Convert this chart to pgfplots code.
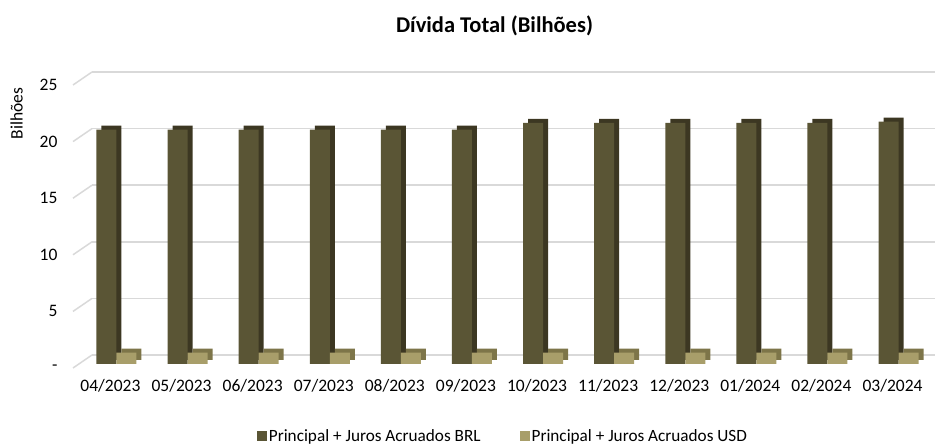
\documentclass[border=0pt]{standalone}
\usepackage{pgfplots}
\pgfplotsset{compat=1.18}
\usepackage{pgfplotstable}
\usepackage{fontspec}
\setmainfont{Carlito}

\definecolor{brl}{HTML}{5A5535}
\definecolor{brlside}{HTML}{3C3722}
\definecolor{usd}{HTML}{A89E6A}
\definecolor{usdside}{HTML}{7D7549}
\definecolor{gridc}{HTML}{D9D9D9}

% x = month index, values in billions
\pgfplotstableread{
x  brl   usd
0  20.7  1.0
1  20.7  1.0
2  20.7  1.0
3  20.7  1.0
4  20.7  1.0
5  20.7  1.0
6  21.3  1.0
7  21.3  1.0
8  21.3  1.0
9  21.3  1.0
10 21.3  1.0
11 21.4  1.0
}\divida

\begin{document}
\begin{tikzpicture}
\path[use as bounding box] (0,0) rectangle (935pt,444pt);
\begin{axis}[
  at={(73pt,80pt)}, anchor=south west,
  scale only axis, width=843pt, height=283pt,
  xmin=-0.527, xmax=11.33, ymin=0, ymax=25,
  clip=false,
  axis line style={draw=none},
  major tick length=0pt,
  ytick={0,5,...,25}, yticklabels={-,5,10,15,20,25},
  xtick={0,...,11},
  xticklabels={04/2023,05/2023,06/2023,07/2023,08/2023,09/2023,10/2023,11/2023,12/2023,01/2024,02/2024,03/2024},
  ymajorgrids,
  major grid style={gridc, line width=1.5pt, xshift=19pt, yshift=9pt},
  tick label style={font=\fontsize{17.5}{20}\selectfont},
  yticklabel style={yshift=-4pt, xshift=-12pt},
  xticklabel style={yshift=-12pt},
  title={Dívida Total (Bilhões)},
  title style={font=\bfseries\fontsize{22.5}{26}\selectfont, yshift=36pt},
  ylabel={Bilhões},
  ylabel style={font=\fontsize{17.5}{20}\selectfont, at={(ticklabel cs:0.885)}, yshift=10pt},
  legend columns=2,
  legend entries={Principal + Juros Acruados BRL, Principal + Juros Acruados USD},
  legend style={at={(0.51,0)}, anchor=center, yshift=-72pt, draw=none,
    font=\fontsize{17.2}{20}\selectfont,
    /tikz/every even column/.append style={column sep=37pt}},
  legend image code/.code={\fill[#1] (-4pt,-5pt) rectangle (6pt,5pt);},
]
\pgfplotsinvokeforeach{0,5,10,15,20,25}{
  \draw[gridc, line width=1.5pt] ([yshift=-4pt]axis cs:-0.527,#1) -- ++(19pt,13pt);
}
\addplot[ybar, bar width=20pt, bar shift=1pt, fill=brlside, draw=none, yshift=4pt, forget plot]
  table[x=x, y=brl] {\divida};
\addplot[ybar, bar width=20pt, bar shift=-4pt, fill=brl, draw=none]
  table[x=x, y=brl] {\divida};
\addplot[ybar, bar width=20pt, bar shift=21pt, fill=usdside, draw=none, yshift=4pt, forget plot]
  table[x=x, y=usd] {\divida};
\addplot[ybar, bar width=20pt, bar shift=16pt, fill=usd, draw=none]
  table[x=x, y=usd] {\divida};
\end{axis}
\end{tikzpicture}
\end{document}
